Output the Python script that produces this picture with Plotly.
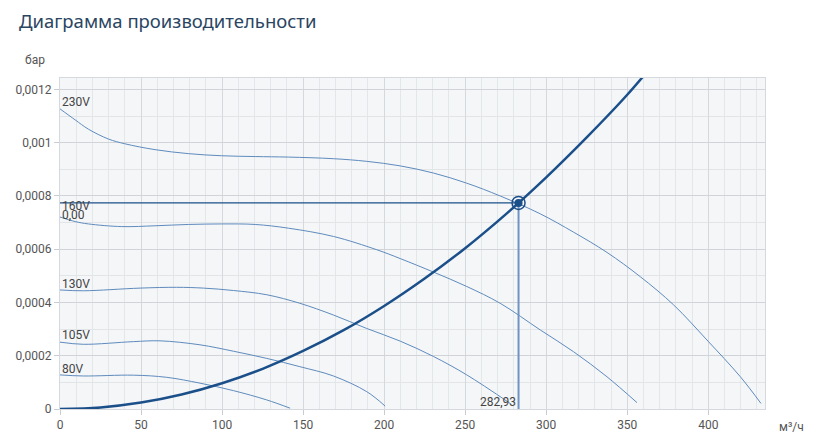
import plotly.graph_objects as go

# ---- data ----
fan_230_x = [0, 9.3, 17.5, 29.8, 40, 58.6, 79.2, 99.8, 120.4, 141, 168.7, 189.3, 209.9, 230.5, 251, 271.6,
             296.3, 316.9, 337.5, 358, 378.6, 399.2, 419.8, 432.5]
fan_230_y = [0.001127, 0.001086, 0.001051, 0.001014, 0.000996, 0.000974, 0.000959, 0.000951, 0.000948, 0.000946,
             0.00094, 0.00093, 0.000913, 0.000886, 0.000848, 0.0008, 0.000733, 0.000664, 0.000588,
             0.000497, 0.000391, 0.000259, 0.000121, 0.000021]

fan_160_x = [0, 9.3, 17.5, 38.1, 58.6, 79.2, 99.8, 120.4, 141, 168.7, 195.5, 209.9, 230.5, 251, 271.6,
             296.3, 316.9, 337.5, 356]
fan_160_y = [0.000721, 0.000704, 0.000695, 0.000685, 0.000688, 0.000693, 0.000695, 0.000693, 0.000679,
             0.000648, 0.000598, 0.000565, 0.000514, 0.00046, 0.000397, 0.000297, 0.000215, 0.000121,
             0.000024]

fan_130_x = [0, 14.4, 49.4, 72, 88.5, 107, 127.6, 148, 168.7, 189, 209.9, 230.5, 251, 278]
fan_130_y = [0.000447, 0.000444, 0.000454, 0.000457, 0.000454, 0.000445, 0.000429, 0.000397, 0.000353, 0.000303,
             0.000255, 0.000197, 0.000128, 0.00002]

fan_105_x = [0, 14.4, 45.3, 61.7, 86.4, 107, 127.6, 148, 168.7, 189.3, 200.6]
fan_105_y = [0.000251, 0.000243, 0.000253, 0.000256, 0.000241, 0.000217, 0.00019, 0.000159, 0.000124, 0.000065,
             0.000011]

fan_80_x = [0, 14.4, 45.3, 65.8, 86.4, 107, 127.6, 142]
fan_80_y = [0.000128, 0.000124, 0.000127, 0.000119, 0.000097, 0.000069, 0.000034, 0.000003]

system_x = [0, 25, 50, 75, 100, 125, 150, 175, 200, 225, 250, 275, 300, 325, 350, 375]
system_y = [0, 0.000006, 0.0000242, 0.0000544, 0.0000967, 0.000151, 0.000218, 0.000296, 0.000387, 0.00049,
            0.000604, 0.000731, 0.00087, 0.00102, 0.00118, 0.00136]

op_x = 282.93
op_y = 0.000774

fan_labels = ["230V", "160V", "130V", "105V", "80V"]

y_tickvals = [0, 0.0002, 0.0004, 0.0006, 0.0008, 0.001, 0.0012]
y_ticktext = ["0", "0,0002", "0,0004", "0,0006", "0,0008", "0,001", "0,0012"]
x_tickvals = [0, 50, 100, 150, 200, 250, 300, 350, 400]

title_text = "Диаграмма производительности"
y_unit = "бар"
x_unit = "м³/ч"

# ---- styles ----
FAN_COLOR = "#5f8bbd"
SYS_COLOR = "#1b4f8a"
TEXT_COLOR = "#444444"
FONT = "Roboto"

fig = go.Figure()

fans = [(fan_230_x, fan_230_y), (fan_160_x, fan_160_y), (fan_130_x, fan_130_y),
        (fan_105_x, fan_105_y), (fan_80_x, fan_80_y)]
for (fx, fy) in fans:
    fig.add_trace(go.Scatter(x=fx, y=fy, mode="lines",
                             line=dict(color=FAN_COLOR, width=1, shape="spline", smoothing=1.0),
                             hoverinfo="skip"))

fig.add_trace(go.Scatter(x=system_x, y=system_y, mode="lines",
                         line=dict(color=SYS_COLOR, width=2.5, shape="spline", smoothing=1.0),
                         hoverinfo="skip"))

# operating point guides
fig.add_trace(go.Scatter(x=[0, op_x], y=[op_y, op_y], mode="lines",
                         line=dict(color=SYS_COLOR, width=1.2), hoverinfo="skip"))
fig.add_trace(go.Scatter(x=[op_x, op_x], y=[op_y, 0], mode="lines",
                         line=dict(color="#6f93c2", width=2), hoverinfo="skip"))
fig.add_trace(go.Scatter(x=[op_x], y=[op_y], mode="markers",
                         marker=dict(size=13, color="rgba(0,0,0,0)", line=dict(color=SYS_COLOR, width=1.5)),
                         hoverinfo="skip"))
fig.add_trace(go.Scatter(x=[op_x], y=[op_y], mode="markers",
                         marker=dict(size=8, color=SYS_COLOR), hoverinfo="skip"))

annotations = []
label_shifts = [7, 11, 6, 7, 6]
for (fx, fy), lab, sh in zip(fans, fan_labels, label_shifts):
    annotations.append(dict(x=fx[0], y=fy[0], xref="x", yref="y", text=lab, showarrow=False,
                            xanchor="left", yanchor="middle", xshift=0, yshift=sh,
                            font=dict(family=FONT, size=12, color=TEXT_COLOR)))
annotations.append(dict(x=0, y=op_y, xref="x", yref="y",
                        text=f"{op_y:.2f}".replace(".", ","), showarrow=False,
                        xanchor="left", yanchor="middle", yshift=-12,
                        font=dict(family=FONT, size=12, color=TEXT_COLOR)))
annotations.append(dict(x=op_x, y=0, xref="x", yref="y",
                        text=f"{op_x:.2f}".replace(".", ","), showarrow=False,
                        xanchor="right", yanchor="middle", yshift=7, xshift=-1,
                        font=dict(family=FONT, size=12, color=TEXT_COLOR)))
annotations.append(dict(x=-0.036, y=1.054, xref="paper", yref="paper", text=y_unit, showarrow=False,
                        xanchor="center", yanchor="middle",
                        font=dict(family=FONT, size=12, color="#555555")))
annotations.append(dict(x=1.038, y=-0.054, xref="paper", yref="paper", text=x_unit, showarrow=False,
                        xanchor="center", yanchor="middle",
                        font=dict(family=FONT, size=12, color="#555555")))
# chart title, placed relative to the plot area
annotations.append(dict(x=-0.0615, y=1.1737, xref="paper", yref="paper", text=title_text, showarrow=False,
                        xanchor="left", yanchor="middle",
                        font=dict(family="Noto Sans", size=18.5, color="#2a4562")))

# page body adds an 8px offset; size the figure so the plot area lands where the reference has it
fig.update_layout(
    width=821, height=431,
    margin=dict(l=52, r=64, t=70, b=30, autoexpand=False),
    paper_bgcolor="white",
    plot_bgcolor="#f4f6f8",
    showlegend=False,
    separators=", ",
    annotations=annotations,
    xaxis=dict(range=[0, 435], tickvals=x_tickvals, showgrid=True, gridcolor="#d5d9de", gridwidth=1,
               minor=dict(dtick=10, tick0=0, showgrid=True, gridcolor="#e4e7ea", gridwidth=1),
               zeroline=False, showline=True, linecolor="#d5d9de", mirror=True,
               ticks="outside", ticklen=5, tickcolor="#c9cdd2", automargin=False,
               tickfont=dict(family=FONT, size=12, color="#555555"), fixedrange=True),
    yaxis=dict(range=[0, 0.001243], tickvals=y_tickvals, ticktext=y_ticktext, showgrid=True,
               gridcolor="#d0d4d9", gridwidth=1,
               minor=dict(dtick=0.0001, tick0=0, showgrid=True, gridcolor="#e2e5e8", gridwidth=1),
               zeroline=False, showline=True, linecolor="#d5d9de", mirror=True,
               ticks="outside", ticklen=5, tickcolor="#c9cdd2", automargin=False,
               tickfont=dict(family=FONT, size=12, color="#555555"), fixedrange=True),
)

fig.write_html("out.html")
